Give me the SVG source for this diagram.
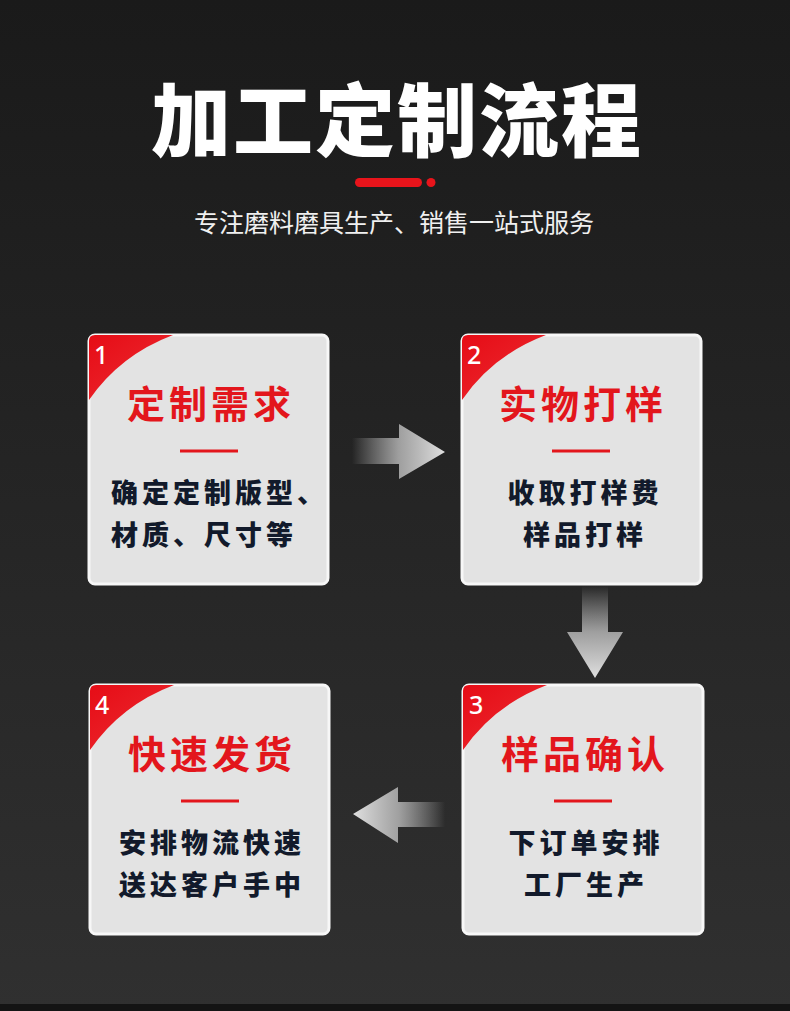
<svg xmlns="http://www.w3.org/2000/svg" width="790" height="1011" viewBox="0 0 790 1011">
<defs>
<linearGradient id="bg" x1="0" y1="0" x2="0" y2="1">
<stop offset="0" stop-color="#1a1a1a"/>
<stop offset="1" stop-color="#303030"/>
</linearGradient>
<linearGradient id="corner" x1="0" y1="0" x2="1" y2="1">
<stop offset="0" stop-color="#e60c16"/>
<stop offset="0.6" stop-color="#ea2027"/>
<stop offset="1" stop-color="#f39a9c"/>
</linearGradient>
<linearGradient id="arR" x1="0" y1="0" x2="1" y2="0">
<stop offset="0" stop-color="#cfcfcf" stop-opacity="0"/>
<stop offset="0.5" stop-color="#bdbdbd" stop-opacity="0.8"/>
<stop offset="1" stop-color="#e0e0e0"/>
</linearGradient>
<linearGradient id="arL" x1="1" y1="0" x2="0" y2="0">
<stop offset="0" stop-color="#cfcfcf" stop-opacity="0"/>
<stop offset="0.5" stop-color="#bdbdbd" stop-opacity="0.8"/>
<stop offset="1" stop-color="#e0e0e0"/>
</linearGradient>
<linearGradient id="arD" x1="0" y1="0" x2="0" y2="1">
<stop offset="0" stop-color="#cfcfcf" stop-opacity="0"/>
<stop offset="0.5" stop-color="#bdbdbd" stop-opacity="0.8"/>
<stop offset="1" stop-color="#e0e0e0"/>
</linearGradient>
</defs>
<style>
.card{fill:#e3e3e3;stroke:#f7f7f7;stroke-width:3}
.num{font-family:"Noto Sans","Liberation Sans",sans-serif;font-size:25px;font-weight:500;fill:#ffffff}
.head{font-family:"Noto Sans CJK SC",sans-serif;font-weight:700;font-size:38px;fill:#e3161c;text-anchor:middle;letter-spacing:4px}
.body{font-family:"Noto Sans CJK SC",sans-serif;font-weight:900;font-size:27px;fill:#121a2b;letter-spacing:4px}
.mid{text-anchor:middle}
.bar{stroke:#e3161c;stroke-width:3}
</style>
<rect x="0" y="0" width="790" height="1011" fill="url(#bg)"/>
<rect x="0" y="1004" width="790" height="7" fill="#141414"/>

<g id="header">
<text x="397" y="150" font-family="Noto Sans CJK SC,sans-serif" font-weight="900" font-size="80" fill="#ffffff" text-anchor="middle" letter-spacing="2">加工定制流程</text>
<rect x="355" y="178" width="67" height="9" rx="4.5" fill="#e8141b"/>
<circle cx="431" cy="182.5" r="4.5" fill="#e8141b"/>
<text x="394" y="232" font-family="Noto Sans CJK SC,sans-serif" font-size="25" fill="#f0f0f0" text-anchor="middle">专注磨料磨具生产、销售一站式服务</text>
</g>

<g id="connectors">
<path d="M352,438 L399,438 L399,424 L445,452 L399,479 L399,464 L352,464 Z" fill="url(#arR)"/>
<path d="M582,586 L608,586 L608,632 L623,632 L595,678 L567,632 L582,632 Z" fill="url(#arD)"/>
<path d="M445,802 L398,802 L398,787 L353,814 L398,843 L398,827 L445,827 Z" fill="url(#arL)"/>
</g>

<g id="node1">
<rect class="card" x="89" y="335" width="239" height="249" rx="6"/>
<path d="M95,335 L173,335 Q120,355 89,400 L89,341 Q89,335 95,335 Z" fill="url(#corner)"/>
<text class="num" x="94" y="364">1</text>
<text class="head" x="211" y="418">定制需求</text>
<line class="bar" x1="180" y1="451" x2="238" y2="451"/>
<text class="body" x="111" y="503">确定定制版型、</text>
<text class="body" x="111" y="545">材质、尺寸等</text>
</g>

<g id="node2">
<rect class="card" x="462" y="335" width="239" height="249" rx="6"/>
<path d="M468,335 L546,335 Q493,355 462,400 L462,341 Q462,335 468,335 Z" fill="url(#corner)"/>
<text class="num" x="467" y="364">2</text>
<text class="head" x="583" y="418">实物打样</text>
<line class="bar" x1="552" y1="451" x2="610" y2="451"/>
<text class="body mid" x="585" y="503">收取打样费</text>
<text class="body mid" x="585" y="545">样品打样</text>
</g>

<g id="node3">
<rect class="card" x="463" y="685" width="240" height="249" rx="6"/>
<path d="M469,685 L547,685 Q494,705 463,750 L463,691 Q463,685 469,685 Z" fill="url(#corner)"/>
<text class="num" x="469" y="714">3</text>
<text class="head" x="585" y="768">样品确认</text>
<line class="bar" x1="554" y1="801" x2="612" y2="801"/>
<text class="body mid" x="586" y="853">下订单安排</text>
<text class="body mid" x="586" y="895">工厂生产</text>
</g>

<g id="node4">
<rect class="card" x="90" y="685" width="239" height="249" rx="6"/>
<path d="M96,685 L174,685 Q121,705 90,750 L90,691 Q90,685 96,685 Z" fill="url(#corner)"/>
<text class="num" x="95" y="714">4</text>
<text class="head" x="212" y="768">快速发货</text>
<line class="bar" x1="181" y1="801" x2="239" y2="801"/>
<text class="body mid" x="212" y="853">安排物流快速</text>
<text class="body mid" x="212" y="895">送达客户手中</text>
</g>
</svg>
